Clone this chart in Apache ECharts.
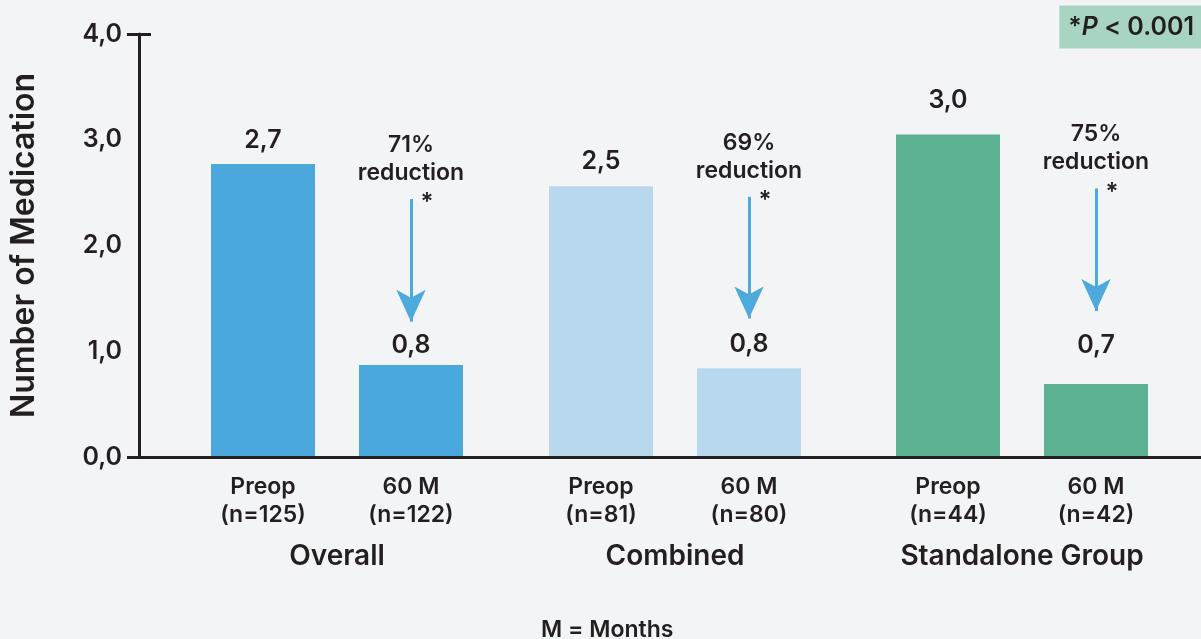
<!DOCTYPE html>
<html>
<head>
<meta charset="utf-8">
<title>Number of Medication</title>
<script src="https://cdn.jsdelivr.net/npm/echarts@6/dist/echarts.min.js"></script>
<style>
html, body { margin: 0; padding: 0; background: #f3f4f6; }
#chart { width: 1201px; height: 639px; }
</style>
</head>
<body>
<div id="chart"></div>
<script>
// data
var groups = ['Overall', 'Combined', 'Standalone Group'];
var timepoints = ['Preop', '60 M'];
var sampleSizes = [[125, 122], [81, 80], [44, 42]];
var barHeights = [[2.77, 0.87], [2.56, 0.84], [3.05, 0.69]];   // as drawn
var shownValues = [[2.7, 0.8], [2.5, 0.8], [3.0, 0.7]];        // as printed
var reductions = ['71%', '69%', '75%'];
var arrowFrom = [2.44, 2.46, 2.54];
var arrowTo = [1.28, 1.31, 1.38];
var yTicks = [0, 1, 2, 3, 4];

// styles
var INK = '#231f20';
var ARROW = '#4ea9dd';
var FONT = 'Inter, "Open Sans", sans-serif';
var groupColors = ['#4aa8dc', '#b8d9ed', '#5bb192'];
var gridLefts = [189, 527, 874];
var labelGap = [[12, 8], [13, 12], [22, 27]];

function fmt(v) {
  return v.toFixed(1).replace('.', ',');
}

var chart = echarts.init(document.getElementById('chart'));

var grids = [{ left: 134, right: 0, top: 34, bottom: 182 }];
var xAxes = [{
  gridIndex: 0, type: 'value', min: 0, max: 1, z: 5,
  axisLine: { lineStyle: { color: INK, width: 3 } },
  axisTick: { show: false }, axisLabel: { show: false }, splitLine: { show: false }
}];
var yAxes = [
  {
    gridIndex: 0, type: 'value', position: 'left',
    min: yTicks[0], max: yTicks[yTicks.length - 1], interval: 1,
    name: 'Number of Medication', nameLocation: 'middle', nameGap: 99,
    nameTextStyle: { color: INK, fontFamily: FONT, fontSize: 32, fontWeight: 600 },
    axisLine: { show: true, lineStyle: { color: INK, width: 3 } },
    axisTick: { show: false },
    splitLine: { show: false },
    axisLabel: { margin: 17, color: INK, fontFamily: FONT, fontSize: 25, fontWeight: 600, formatter: fmt }
  },
  {
    // outer caps at 0 and 4
    gridIndex: 0, type: 'value', position: 'left',
    min: yTicks[0], max: yTicks[yTicks.length - 1], interval: 4,
    axisLine: { show: false }, axisLabel: { show: false }, splitLine: { show: false },
    axisTick: { show: true, length: 12, lineStyle: { color: INK, width: 3 } }
  },
  {
    // inner cap at 4
    gridIndex: 0, type: 'value', position: 'left',
    min: yTicks[0], max: yTicks[yTicks.length - 1], interval: 4,
    axisLine: { show: false }, axisLabel: { show: false }, splitLine: { show: false },
    axisTick: { show: true, inside: true, length: 12, lineStyle: { color: INK, width: 3 } }
  }
];
var series = [];

groups.forEach(function (g, i) {
  grids.push({ left: gridLefts[i], width: 296, top: 34, bottom: 182 });
  xAxes.push({
    gridIndex: i + 1, type: 'category',
    data: timepoints.map(function (t, j) { return t + '\n(n=' + sampleSizes[i][j] + ')'; }),
    name: g, nameLocation: 'middle', nameGap: 86,
    nameTextStyle: { color: INK, fontFamily: FONT, fontSize: 28, fontWeight: 600 },
    axisLine: { show: false }, axisTick: { show: false },
    axisLabel: { margin: 16, color: INK, fontFamily: FONT, fontSize: 23, fontWeight: 600, lineHeight: 28 }
  });
  yAxes.push({ gridIndex: i + 1, type: 'value', min: 0, max: 4, show: false });
  series.push({
    type: 'bar',
    xAxisIndex: i + 1,
    yAxisIndex: 3 + i,
    barWidth: 104,
    itemStyle: { color: groupColors[i] },
    data: barHeights[i].map(function (v, j) {
      return { value: v, label: { distance: labelGap[i][j] } };
    }),
    label: {
      show: true, position: 'top',
      color: INK, fontFamily: FONT, fontSize: 25, fontWeight: 600, lineHeight: 24,
      formatter: function (p) { return fmt(shownValues[i][p.dataIndex]); }
    },
    markLine: {
      silent: true, animation: false,
      symbol: ['none', 'arrow'],
      lineStyle: { color: ARROW, width: 3, type: 'solid' },
      label: {
        show: true, position: 'start', distance: -20,
        formatter: reductions[i] + '\nreduction\n{s|*}',
        color: INK, fontFamily: FONT, fontSize: 23, fontWeight: 600, lineHeight: 28,
        rich: { s: { color: INK, fontFamily: FONT, fontSize: 24, fontWeight: 600, lineHeight: 32, padding: [0, 0, 0, 32] } }
      },
      data: [[
        { coord: [1, arrowFrom[i]] },
        { coord: [1, arrowTo[i]], symbolSize: [22, 32] }
      ]]
    }
  });
});

chart.setOption({
  backgroundColor: '#f3f4f6',
  animation: false,
  title: [
    {
      text: '{a|*}{b|P}{a| < 0.001}',
      right: 0, top: 5,
      backgroundColor: '#a8d5c2',
      padding: [9, 7, 9, 9],
      textStyle: {
        rich: {
          a: { color: INK, fontFamily: FONT, fontSize: 25, fontWeight: 600, lineHeight: 26 },
          b: { color: INK, fontFamily: FONT, fontSize: 25, fontWeight: 600, fontStyle: 'italic', lineHeight: 26 }
        }
      }
    },
    {
      text: 'M = Months',
      left: 536, top: 614,
      textStyle: { color: INK, fontFamily: FONT, fontSize: 23, fontWeight: 600 }
    }
  ],
  grid: grids,
  xAxis: xAxes,
  yAxis: yAxes,
  series: series
});
</script>
</body>
</html>
